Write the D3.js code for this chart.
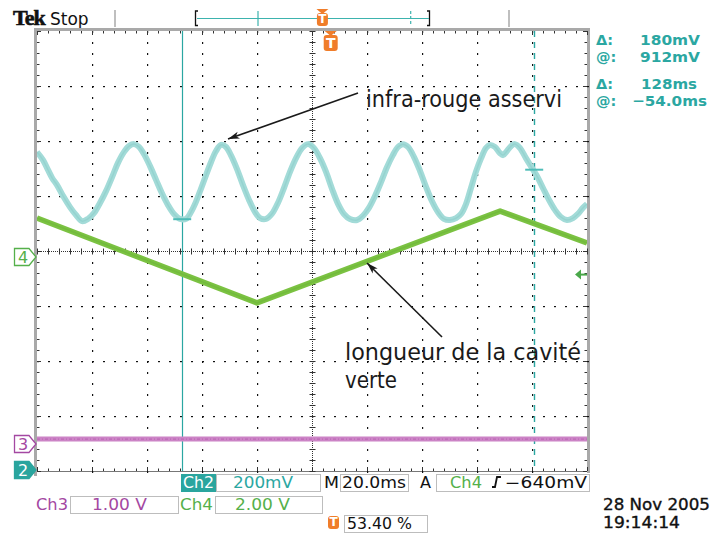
<!DOCTYPE html>
<html><head><meta charset="utf-8">
<script src="https://cdn.jsdelivr.net/npm/d3@7"></script>
<style>
html,body{margin:0;padding:0;background:#fff;}
svg{display:block;}
</style></head>
<body>
<svg id="c" width="715" height="536"></svg>
<script>
// ---------------- DATA ----------------
// time (ms, relative to trigger) and Ch2 voltage (mV) : "infra-rouge asservi"
const ch2Time = [-106.8,-104.6,-102.8,-101.3,-99.5,-97.3,-94.8,-92.6,-90.4,-88.3,-86.1,-83.9,-81.7,-79.5,-77.4,-75.2,-73.3,-71.5,-69.7,-67.9,-65.7,-63.5,-61.4,-59.2,-57.0,-54.8,-52.6,-50.8,-49.0,-47.2,-45.3,-43.5,-41.7,-39.9,-38.1,-36.3,-34.1,-31.9,-29.7,-27.5,-25.7,-23.5,-21.4,-19.2,-17.0,-14.8,-12.6,-10.4,-8.3,-6.1,-3.9,-1.7,0.5,2.7,4.8,7.0,9.6,11.7,13.9,16.1,18.3,20.5,22.6,24.5,26.3,28.1,30.3,32.5,34.7,36.8,39.0,41.2,43.4,45.6,47.4,49.2,51.0,52.8,54.7,56.5,57.9,59.7,61.5,62.7,64.1,65.6,67.0,68.8,71.0,73.2,75.0,77.2,79.4,81.6,83.7,85.9,88.1,89.9,91.7,93.2];
const ch2Values = [1156,1127,1091,1062,1036,996,956,927,905,913,934,971,1014,1065,1116,1156,1178,1185,1175,1149,1105,1055,1007,964,931,913,913,938,975,1022,1073,1120,1160,1182,1175,1145,1095,1036,982,938,916,913,931,971,1025,1084,1134,1171,1185,1171,1134,1084,1022,967,931,913,909,924,953,996,1047,1102,1145,1175,1185,1175,1138,1087,1029,978,938,913,909,916,931,967,1025,1084,1134,1171,1182,1175,1153,1145,1160,1178,1185,1171,1134,1098,1069,1025,982,945,920,909,916,931,953,967];
// Ch4 (V) : "longueur de la cavité verte" (triangle ramp)
const ch4Time = [-106.8,-26.8,61.6,93.2];
const ch4Values = [1.42,-1.67,1.67,0.51];
// Ch3 (V) : flat trace
const ch3Time = [-106.8,93.2];
const ch3Values = [0.09,0.09];

// cursors & settings
const cursorTimes = [-54.0, 74.0];      // ms
const cursorVolts = [912, 1092];        // mV (Ch2)
const readoutLabels = ["\u0394:","@:","\u0394:","@:"];
const readoutValues = ["180mV","912mV","128ms","\u221254.0ms"];
const triggerLevel = -0.64;             // V on Ch4
const triggerPercent = "53.40 %";
const timePerDiv = 20;                  // ms
const ch2PerDiv = 200;                  // mV
const ch3PerDiv = 1;                    // V
const ch4PerDiv = 2;                    // V
const annotations = ["infra-rouge asservi","longueur de la cavit\u00e9","verte"];
const dateLines = ["28 Nov 2005","19:14:14"];

// ---------------- LAYOUT ----------------
const L=37, R=587, T=31, B=471;
const svg = d3.select("#c");
const DIV = (R-L)/10;
const x = d3.scaleLinear().domain([-106.8, -106.8 + 10*timePerDiv]).range([L,R]);
const gx = d3.scaleLinear().domain([0,10]).range([L,R]);
const gy = d3.scaleLinear().domain([0,8]).range([T,B]);
const y2 = d3.scaleLinear().domain([0, ch2PerDiv]).range([470, 470-DIV]);
const y3 = d3.scaleLinear().domain([0, ch3PerDiv]).range([444, 444-DIV]);
const y4 = d3.scaleLinear().domain([0, ch4PerDiv]).range([257, 257-DIV]);

const teal = "#2ba7a2", cyanTrace="#a3dbd8", green="#7bc242", greenTxt="#55b04a", purple="#a448a2", magTrace="#cc84c6", orange="#f07d2a";

// ---------- top bar ----------
svg.append("text").attr("x",13).attr("y",25).attr("font-family","Liberation Serif").attr("font-weight","bold").attr("font-size",22).attr("letter-spacing",-1).attr("fill","#111").attr("stroke","#111").attr("stroke-width",0.6).text("Tek");
svg.append("text").attr("x",50).attr("y",25).attr("font-family","DejaVu Sans").attr("font-size",17).attr("fill","#111").text("Stop");
[115,509].forEach(v=>svg.append("line").attr("x1",v).attr("x2",v).attr("y1",10).attr("y2",27).attr("stroke","#aaa").attr("stroke-width",1.5));
// record bracket
svg.append("path").attr("d","M198,11 H195.5 V25.5 H198").attr("fill","none").attr("stroke","#111").attr("stroke-width",1.3);
svg.append("path").attr("d","M427,11 H429.5 V25.5 H427").attr("fill","none").attr("stroke","#111").attr("stroke-width",1.3);
svg.append("line").attr("x1",197).attr("x2",429).attr("y1",18.5).attr("y2",18.5).attr("stroke","#3db3ae").attr("stroke-width",1);
// record positions for cursors (solid & dashed)
const recX = d3.scaleLinear().domain(cursorTimes).range([258, 410.7]);
svg.append("line").attr("x1",recX(cursorTimes[0])).attr("x2",recX(cursorTimes[0])).attr("y1",11).attr("y2",26).attr("stroke","#3db3ae").attr("stroke-width",1.2);
svg.append("line").attr("x1",recX(cursorTimes[1])).attr("x2",recX(cursorTimes[1])).attr("y1",11).attr("y2",26).attr("stroke","#3db3ae").attr("stroke-width",1.2).attr("stroke-dasharray","3,2");
function tIcon(cx, top, small){
  const g = svg.append("g");
  const w = small?11:14, h = small?13:16;
  g.append("path").attr("d",`M${cx-6},${top} L${cx+6},${top} L${cx},${top+5} Z`).attr("fill",orange);
  g.append("rect").attr("x",cx-w/2).attr("y",top+4).attr("width",w).attr("height",h).attr("rx",3).attr("fill",orange);
  g.append("text").attr("x",cx).attr("y",top+4+h-3).attr("text-anchor","middle").attr("font-family","DejaVu Sans").attr("font-weight","bold").attr("font-size",small?12:14).attr("fill","#fff").text("T");
  return g;
}
tIcon(recX(0), 9, true);

// ---------- frame ----------
svg.append("rect").attr("x",34).attr("y",28).attr("width",R+3-34).attr("height",3).attr("fill","#a9a9a9");
svg.append("rect").attr("x",34).attr("y",28).attr("width",3).attr("height",B+5-28).attr("fill","#a9a9a9");
svg.append("rect").attr("x",R).attr("y",28).attr("width",3).attr("height",B+2-28).attr("fill","#a9a9a9");
svg.append("line").attr("x1",L).attr("x2",R).attr("y1",B+0.5).attr("y2",B+0.5).attr("stroke","#777").attr("stroke-width",1);

// ---------- graticule ----------
const grid = svg.append("g").attr("fill","#111");
const minorX = d3.range(0,51).map(i=>i/5), minorY = d3.range(0,41).map(i=>i/5);
[1,2,3,4,6,7,8,9].forEach(i=>minorY.forEach(j=>grid.append("rect").attr("x",Math.round(gx(i))).attr("y",Math.round(gy(j))).attr("width",1.2).attr("height",2)));
[1,2,3,5,6,7].forEach(k=>minorX.forEach(j=>grid.append("rect").attr("x",Math.round(gx(j))).attr("y",Math.round(gy(k))).attr("width",2).attr("height",1.2)));
// center lines
const cg = svg.append("g").attr("stroke","#333").attr("stroke-width",1);
cg.append("line").attr("x1",L).attr("x2",R).attr("y1",Math.round(gy(4))+0.5).attr("y2",Math.round(gy(4))+0.5).attr("stroke-dasharray","1,1");
cg.append("line").attr("y1",T).attr("y2",B).attr("x1",Math.round(gx(5))+0.5).attr("x2",Math.round(gx(5))+0.5).attr("stroke-dasharray","1,1");
minorX.forEach(j=>{const xx=Math.round(gx(j))+0.5; cg.append("line").attr("x1",xx).attr("x2",xx).attr("y1",gy(4)-2.5).attr("y2",gy(4)+3.5);});
minorY.forEach(j=>{const yy=Math.round(gy(j))+0.5; cg.append("line").attr("y1",yy).attr("y2",yy).attr("x1",gx(5)-2.5).attr("x2",gx(5)+3.5);});
// edge ticks
minorX.forEach((j,i)=>{const xx=Math.round(gx(j))+0.5, len=(i%5==0)?4:2.5;
  cg.append("line").attr("x1",xx).attr("x2",xx).attr("y1",T).attr("y2",T+len);
  cg.append("line").attr("x1",xx).attr("x2",xx).attr("y1",B-len).attr("y2",B);});
minorY.forEach((j,i)=>{const yy=Math.round(gy(j))+0.5, len=(i%5==0)?4:2.5;
  cg.append("line").attr("y1",yy).attr("y2",yy).attr("x1",L).attr("x2",L+len);
  cg.append("line").attr("y1",yy).attr("y2",yy).attr("x1",R-len).attr("x2",R);});

// ---------- cursors (vertical bars) ----------
svg.append("line").attr("x1",Math.round(x(cursorTimes[0]))+0.5).attr("x2",Math.round(x(cursorTimes[0]))+0.5).attr("y1",T).attr("y2",B).attr("stroke",teal).attr("stroke-width",1.2);
svg.append("line").attr("x1",Math.round(x(cursorTimes[1]))+0.5).attr("x2",Math.round(x(cursorTimes[1]))+0.5).attr("y1",T).attr("y2",B).attr("stroke",teal).attr("stroke-width",1.4).attr("stroke-dasharray","6,5");

// ---------- traces ----------
svg.append("clipPath").attr("id","pc").append("rect").attr("x",L).attr("y",T).attr("width",R-L).attr("height",B-T);
const tr = svg.append("g").attr("clip-path","url(#pc)");
const line2 = d3.line().x((d,i)=>x(ch2Time[i])).y(d=>y2(d)).curve(d3.curveCatmullRom);
tr.append("path").datum(ch2Values).attr("d",line2).attr("fill","none").attr("stroke",cyanTrace).attr("stroke-width",6).attr("stroke-linejoin","round");
tr.append("path").datum(ch2Values).attr("d",line2).attr("fill","none").attr("stroke","#8fd0cc").attr("stroke-width",1.5).attr("opacity",0.7);
const line4 = d3.line().x((d,i)=>x(ch4Time[i])).y(d=>y4(d));
tr.append("path").datum(ch4Values).attr("d",line4).attr("fill","none").attr("stroke",green).attr("stroke-width",5.5).attr("stroke-linejoin","round");
tr.append("path").datum(ch4Values).attr("d",line4).attr("fill","none").attr("stroke","#6fb83a").attr("stroke-width",1.5).attr("opacity",0.7);
const line3 = d3.line().x((d,i)=>x(ch3Time[i])).y(d=>y3(d));
tr.append("path").datum(ch3Values).attr("d",line3).attr("fill","none").attr("stroke",magTrace).attr("stroke-width",5);
tr.append("path").datum(ch3Values).attr("d",line3).attr("fill","none").attr("stroke","#b962b3").attr("stroke-width",1.2).attr("stroke-dasharray","3,2,1,2").attr("opacity",0.8);

// horizontal cursor marks
cursorTimes.forEach((t,i)=>{
  svg.append("line").attr("x1",x(t)-9).attr("x2",x(t)+9).attr("y1",y2(cursorVolts[i])).attr("y2",y2(cursorVolts[i])).attr("stroke","#4fbdb8").attr("stroke-width",2);
});

// trigger marker on top of graticule
tIcon(x(0), T, false);
// trigger level arrow (right)
const tly = y4(triggerLevel);
svg.append("path").attr("d",`M${R-12},${tly} L${R-6},${tly-5} L${R-6},${tly+5} Z`).attr("fill","#4aa84a");
svg.append("line").attr("x1",R-7).attr("x2",R).attr("y1",tly).attr("y2",tly).attr("stroke","#4aa84a").attr("stroke-width",2);

// ---------- channel ground markers ----------
function chMarker(num, yy, col, filled){
  const g = svg.append("g");
  g.append("path").attr("d",`M14.5,${yy-8.5} H29 L36,${yy} L29,${yy+8.5} H14.5 Z`).attr("fill",filled?col:"#fff").attr("stroke",col).attr("stroke-width",1.3);
  g.append("text").attr("x",23).attr("y",yy+6).attr("text-anchor","middle").attr("font-family","DejaVu Sans").attr("font-size",16).attr("fill",filled?"#fff":col).text(num);
}
chMarker("4", y4(0), greenTxt, false);
chMarker("3", y3(0), purple, false);
chMarker("2", y2(0), "#2aa59e", true);

// ---------- annotations ----------
function arrow(x1,y1,x2,y2){
  svg.append("line").attr("x1",x1).attr("y1",y1).attr("x2",x2).attr("y2",y2).attr("stroke","#1a1a1a").attr("stroke-width",1.6);
  const a=Math.atan2(y2-y1,x2-x1), l=12, w=0.3;
  svg.append("path").attr("d",`M${x2},${y2} L${x2-l*Math.cos(a-w)},${y2-l*Math.sin(a-w)} L${x2-l*0.7*Math.cos(a)},${y2-l*0.7*Math.sin(a)} L${x2-l*Math.cos(a+w)},${y2-l*Math.sin(a+w)} Z`).attr("fill","#1a1a1a");
}
arrow(358, 93, 228, 139);
arrow(442, 337, 367, 263);
const af = {family:"DejaVu Sans", size:23};
svg.append("text").attr("x",366).attr("y",107).attr("font-family",af.family).attr("font-size",af.size).attr("fill","#1a1a1a").attr("textLength",196).attr("lengthAdjust","spacingAndGlyphs").text(annotations[0]);
svg.append("text").attr("x",345).attr("y",360).attr("font-family",af.family).attr("font-size",af.size).attr("fill","#1a1a1a").attr("textLength",236).attr("lengthAdjust","spacingAndGlyphs").text(annotations[1]);
svg.append("text").attr("x",345).attr("y",388).attr("font-family",af.family).attr("font-size",af.size).attr("fill","#1a1a1a").attr("textLength",52).attr("lengthAdjust","spacingAndGlyphs").text(annotations[2]);

// ---------- readouts (right) ----------
const roY=[45,62,89,106], roX=[640,640,641,632], roW=[60,60,56,75];
readoutLabels.forEach((s,i)=>{
  svg.append("text").attr("x",596).attr("y",roY[i]).attr("font-family","DejaVu Sans").attr("font-weight","bold").attr("font-size",14.5).attr("fill",teal).text(s);
  svg.append("text").attr("x",roX[i]).attr("y",roY[i]).attr("font-family","DejaVu Sans").attr("font-weight","bold").attr("font-size",14.5).attr("fill",teal).attr("textLength",roW[i]).attr("lengthAdjust","spacingAndGlyphs").text(readoutValues[i]);
});

// ---------- bottom status ----------
const bf = "DejaVu Sans";
function box(x0,y0,w,h){svg.append("rect").attr("x",x0+0.5).attr("y",y0+0.5).attr("width",w).attr("height",h).attr("fill","#fff").attr("stroke","#bdbdbd").attr("stroke-width",1);}
function txt(s,x0,y0,col,w,anchor){const t=svg.append("text").attr("x",x0).attr("y",y0).attr("font-family",bf).attr("font-size",15.5).attr("fill",col).text(s); if(w) t.attr("textLength",w).attr("lengthAdjust","spacingAndGlyphs"); if(anchor) t.attr("text-anchor",anchor); return t;}
// row 1
svg.append("rect").attr("x",181).attr("y",474).attr("width",35).attr("height",18).attr("fill","#2aa59e");
txt("Ch2",183,488,"#fff",31);
box(216,474,104,17); txt(ch2PerDiv+"mV",233,488,teal,60);
txt("M",324,488,"#111",15);
box(340,474,68,17); txt(timePerDiv.toFixed(1)+"ms",342,488,"#111",64);
txt("A",420,488,"#111",11);
box(436,474,153,17); txt("Ch4",450,488,greenTxt,32);
svg.append("path").attr("d","M492,487 H495 L497,477 H501").attr("fill","none").attr("stroke","#111").attr("stroke-width",1.8);
txt("\u2212"+Math.abs(triggerLevel*1000)+"mV",505,488,"#111",82);
// row 2
txt("Ch3",36,510,purple,32);
box(70,496,108,17); txt(ch3PerDiv.toFixed(2)+" V",92,510,purple,55);
txt("Ch4",180,510,greenTxt,33);
box(215,496,107,17); txt(ch4PerDiv.toFixed(2)+" V",235,510,greenTxt,55);
// row 3
tIcon(333.5, 512, true).select("path").remove();
box(344,515,83,17); txt(triggerPercent,347,529,"#111",65);
// date
txt(dateLines[0],603,510,"#111",107).attr("stroke","#111").attr("stroke-width",0.35);
txt(dateLines[1],603,528,"#111",77).attr("stroke","#111").attr("stroke-width",0.35);
</script>
</body></html>
